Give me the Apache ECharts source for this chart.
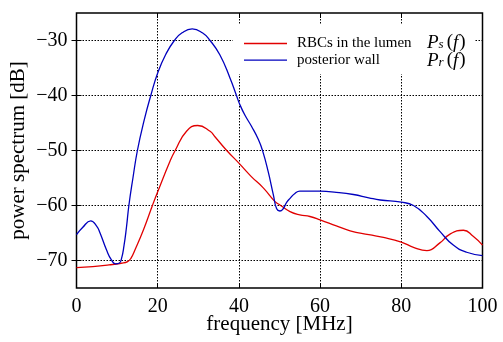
<!DOCTYPE html>
<html><head><meta charset="utf-8">
<script src="https://cdn.jsdelivr.net/npm/echarts@6/dist/echarts.min.js"></script>
<style>html,body{margin:0;padding:0;background:#fff}#c{width:503px;height:342px}</style>
</head><body><div id="c"></div>
<script>
const xTicks = [0, 20, 40, 60, 80, 100];
const yTicks = [-70, -60, -50, -40, -30];
const seriesNames = ['RBCs in the lumen', 'posterior wall'];
const redX = [0,4,8,11,12.6,13.4,14.5,16.5,18.7,20,23,24.3,27.1,29.85,32.9,34.1,37,40,43,46,48.9,50.1,52.6,55,57.5,60,64,67.4,72,75.6,80,83,86.3,89.5,92,95.3,97.7,100];
const redY = [-71.3,-71.1,-70.8,-70.5,-70.2,-69.6,-67.9,-64.4,-60,-57.5,-52,-50,-46.5,-45.45,-46.5,-47.5,-50,-52.3,-54.7,-56.8,-59.3,-59.9,-61.1,-61.7,-62,-62.6,-63.7,-64.6,-65.3,-65.8,-66.65,-67.6,-68.2,-66.8,-65.2,-64.5,-65.6,-67.2];
const blueX = [0,1.5,3.5,5,5.8,7.4,8.6,9.6,10.5,11.1,11.7,12.3,12.9,13.9,15,16.7,18.3,20,22,24.1,26,28.5,31,32.9,35.3,37.8,39.4,40.2,41.5,43.1,44.8,45.9,47.2,48.5,49.3,50.1,50.8,51.8,52.6,53.8,55,60,64,68.2,72,74.8,80,83,86.3,89.5,92.8,96.1,100];
const blueY = [-65.3,-64,-62.8,-63.8,-65,-68.1,-69.9,-70.6,-70.5,-69.6,-67.3,-64,-60,-55,-50,-44.4,-40,-35.9,-32.5,-30,-28.6,-27.9,-28.6,-30,-32.6,-36.8,-40,-41.6,-43.6,-45.6,-48,-50.2,-53.8,-58.1,-60.6,-61,-60.7,-59.4,-58.7,-57.8,-57.4,-57.4,-57.6,-58,-58.6,-59,-59.4,-60,-62,-64.7,-67.2,-68.5,-69.1];
const legendMath = ['s', 'r'];

const FONT = 'Liberation Serif';
const zip = (xs, ys) => xs.map((x, i) => [x, ys[i]]);
const chart = echarts.init(document.getElementById('c'), null, {renderer: 'canvas'});
const gridLine = {color: '#000', width: 1, type: [1.5, 1.5]};
const tick = {show: true, inside: true, length: 5, lineStyle: {color: '#000'}};
const baseX = {type: 'value', min: 0, max: 100, interval: 20};
const baseY = {type: 'value', min: -75, max: -25, interval: 5};
chart.setOption({
  animation: false,
  grid: {left: 76.5, right: 20.5, top: 13, bottom: 54, containLabel: false, outerBoundsMode: 'none',
    show: true, borderColor: '#000', borderWidth: 1.5, backgroundColor: 'transparent'},
  xAxis: [
    Object.assign({}, baseX, {position: 'bottom', name: 'frequency [MHz]', nameLocation: 'middle', nameGap: 26, nameMoveOverlap: false,
      nameTextStyle: {fontFamily: FONT, fontSize: 21, color: '#000'},
      axisLine: {show: false}, axisTick: Object.assign({customValues: xTicks}, tick),
      axisLabel: {fontFamily: FONT, fontSize: 20, color: '#000', margin: 9, customValues: xTicks},
      splitLine: {show: true, lineStyle: gridLine}}),
    Object.assign({}, baseX, {position: 'top', axisLine: {show: false}, axisTick: Object.assign({customValues: xTicks}, tick), axisLabel: {show: false}, splitLine: {show: false}})
  ],
  yAxis: [
    Object.assign({}, baseY, {position: 'left', name: 'power spectrum [dB]', nameLocation: 'middle', nameGap: 48, nameMoveOverlap: false,
      nameTextStyle: {fontFamily: FONT, fontSize: 21, color: '#000'},
      axisLine: {show: false}, axisTick: Object.assign({customValues: yTicks}, tick),
      axisLabel: {fontFamily: FONT, fontSize: 20, color: '#000', margin: 9, customValues: yTicks,
        formatter: v => String(v).replace('-', '\u2212')},
      splitLine: {show: true, lineStyle: gridLine}}),
    Object.assign({}, baseY, {position: 'right', axisLine: {show: false}, axisTick: Object.assign({customValues: yTicks}, tick), axisLabel: {show: false}, splitLine: {show: false}})
  ],
  legend: {
    orient: 'vertical', left: 244, top: 36, padding: 0, itemWidth: 43, itemHeight: 16, itemGap: 1.7,
    icon: 'path://M0,0H43V1.3H0Z',
    textStyle: {fontFamily: FONT, fontSize: 15, color: '#000', padding: [0, 0, 0, 5]},
    data: seriesNames
  },
  graphic: {elements: [
    {type: 'rect', z: 1, shape: {x: 233, y: 24, width: 242, height: 50}, style: {fill: '#fff'}},
    {type: 'text', z: 5, left: 427, top: 33, style: {
      rich: {i: {fontFamily: FONT, fontStyle: 'italic', fontSize: 19, fill: '#000'},
             n: {fontFamily: FONT, fontSize: 19, fill: '#000', padding: [0, 0, 0, 1]},
             s: {fontFamily: FONT, fontStyle: 'italic', fontSize: 13, fill: '#000', verticalAlign: 'bottom', padding: [9, 2, 0, 0]}},
      text: '{i|P}{s|' + legendMath[0] + '}{n|(}{i|f}{n|)}\n{i|P}{s|' + legendMath[1] + '}{n|(}{i|f}{n|)}', lineHeight: 18}}
  ]},
  series: [
    {name: seriesNames[0], type: 'line', symbol: 'none', smooth: 0.5, z: 3, data: zip(redX, redY), lineStyle: {color: 'rgb(225,0,0)', width: 1.3}, itemStyle: {color: 'rgb(225,0,0)'}},
    {name: seriesNames[1], type: 'line', symbol: 'none', smooth: 0.5, z: 3, data: zip(blueX, blueY), lineStyle: {color: 'rgb(0,0,190)', width: 1.3}, itemStyle: {color: 'rgb(0,0,190)'}}
  ]
});
</script></body></html>
